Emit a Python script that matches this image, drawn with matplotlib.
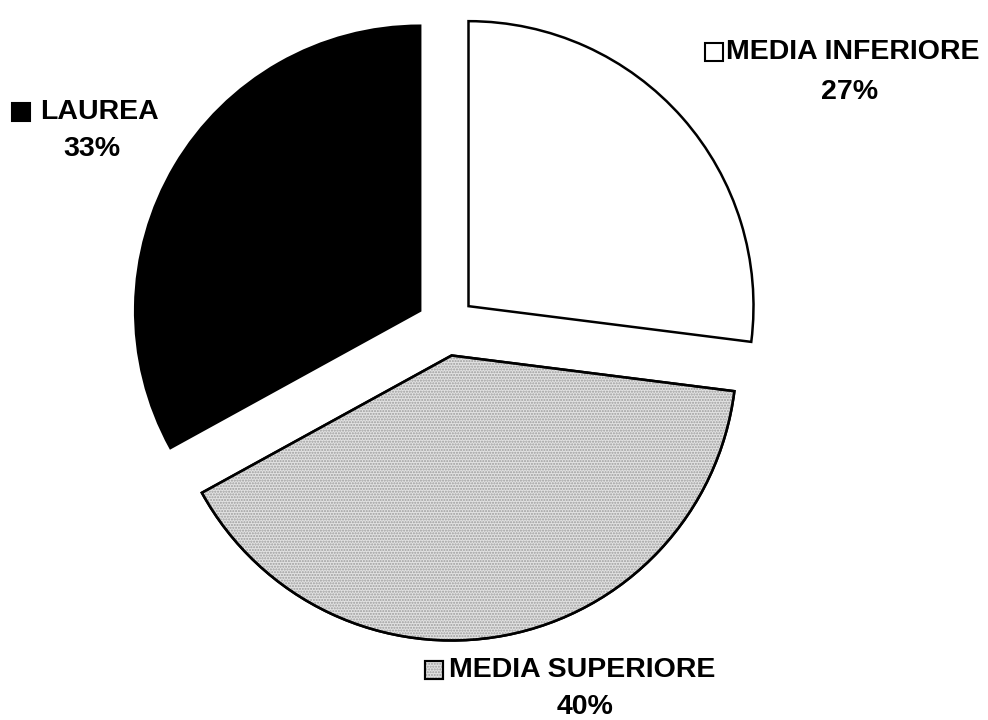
import matplotlib
matplotlib.use("Agg")
import matplotlib.pyplot as plt
from matplotlib.patches import Rectangle, Wedge

categories = ["MEDIA INFERIORE", "MEDIA SUPERIORE", "LAUREA"]
values = [27, 40, 33]
colors = ["#ffffff", "#e2e2e2", "#000000"]

plt.rcParams['font.family'] = ['Liberation Sans', 'DejaVu Sans']

fig = plt.figure(figsize=(9.88, 7.2), dpi=100)
ax = fig.add_axes([0, 0, 1, 1])

R = 285
center = (446, 720 - 326)
wedges, _ = ax.pie(values, colors=colors, startangle=90, counterclock=False,
                   radius=R, center=center, explode=[30] * 3,
                   wedgeprops=dict(edgecolor='black', linewidth=1.8),
                   frame=True)
ax.set_xlim(0, 988)
ax.set_ylim(0, 720)
ax.set_aspect('equal')
ax.axis('off')

# stipple texture on the light gray slice
w = wedges[1]
ax.add_patch(Wedge(w.center, w.r, w.theta1, w.theta2, facecolor='none',
                   edgecolor='#9c9c9c', linewidth=0, hatch='......'))
ax.add_patch(Wedge(w.center, w.r, w.theta1, w.theta2, facecolor='none',
                   edgecolor='black', linewidth=1.8))

# labels: (square x, y top in image px, text x, text y, pct x, pct y)
label_pos = [
    (705, 43, 726, 52, 850, 92),
    (425, 661, 449, 670, 585, 707),
    (12, 103, 40, 112, 92, 149),
]
fs = 20.5
for cat, val, col, (sx, sy, tx, ty, px, py) in zip(categories, values, colors, label_pos):
    ax.add_patch(Rectangle((sx, 720 - sy - 18), 18, 18, facecolor=col,
                           edgecolor='black', linewidth=1.5))
    if cat == "MEDIA SUPERIORE":
        ax.add_patch(Rectangle((sx, 720 - sy - 18), 18, 18, facecolor='none',
                               edgecolor='#9c9c9c', linewidth=0, hatch='......'))
        ax.add_patch(Rectangle((sx, 720 - sy - 18), 18, 18, facecolor='none',
                               edgecolor='black', linewidth=1.5))
    ax.text(tx, 720 - ty, cat, ha='left', va='center', fontsize=fs,
            fontweight='bold', color='black')
    ax.text(px, 720 - py, f"{val}%", ha='center', va='center', fontsize=fs,
            fontweight='bold', color='black')

fig.savefig("out.png", dpi=100, facecolor='white')
